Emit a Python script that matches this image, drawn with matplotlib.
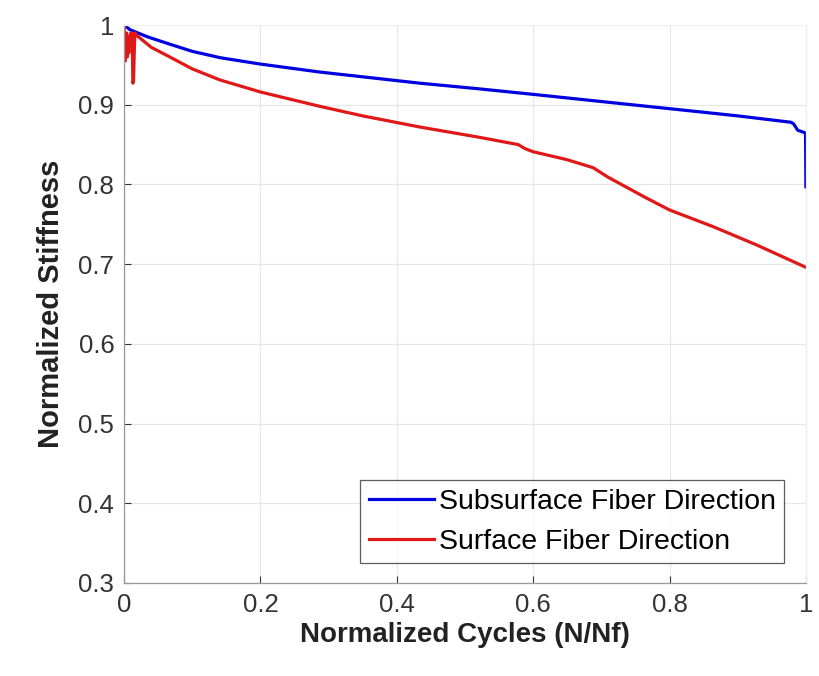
import matplotlib.pyplot as plt

plt.rcParams['font.family'] = ['Liberation Sans', 'DejaVu Sans']

# Subsurface fiber direction (blue)
sub_x = [0.0, 0.009, 0.035, 0.067, 0.1, 0.141, 0.2, 0.287, 0.35, 0.434, 0.52, 0.6, 0.7, 0.845, 0.9,
         0.978, 0.982, 0.988, 0.998, 0.9995, 1.0]
sub_y = [1.0, 0.994, 0.985, 0.976, 0.967, 0.959, 0.951, 0.941, 0.935, 0.927, 0.920, 0.913, 0.904, 0.891, 0.886,
         0.878, 0.876, 0.868, 0.865, 0.864, 0.797]

# Surface fiber direction (red)
surf_x = [0.0, 0.001, 0.002, 0.003, 0.004, 0.005, 0.006, 0.007, 0.008, 0.009, 0.010, 0.011,
          0.012, 0.013, 0.014, 0.015, 0.016, 0.02, 0.04, 0.067, 0.1, 0.141, 0.2, 0.287, 0.35, 0.434, 0.522,
          0.578, 0.588, 0.6, 0.65, 0.688, 0.71, 0.766, 0.8, 0.864, 0.928, 1.0]
surf_y = [1.0, 0.975, 0.955, 0.985, 0.99, 0.96, 0.985, 0.965, 0.985, 0.975, 0.99, 0.985,
          0.99, 0.927, 0.93, 0.965, 0.99, 0.986, 0.972, 0.960, 0.945, 0.931, 0.916, 0.898, 0.886, 0.872, 0.859,
          0.850, 0.845, 0.841, 0.831, 0.821, 0.809, 0.783, 0.768, 0.747, 0.724, 0.696]

fig = plt.figure(figsize=(8.19, 6.76), dpi=100)
ax = fig.add_axes([0.1514, 0.1376, 0.8326, 0.8254])

ax.plot(sub_x, sub_y, color='#0000e0', lw=2.3, label='Subsurface Fiber Direction')
ax.plot(surf_x, surf_y, color='#e01818', lw=2.3, label='Surface Fiber Direction')

ax.set_xlim(0, 1)
ax.set_ylim(0.3, 1.0)
ax.set_xticks([0, 0.2, 0.4, 0.6, 0.8, 1])
ax.set_xticklabels(['0', '0.2', '0.4', '0.6', '0.8', '1'])
ax.set_yticks([0.3, 0.4, 0.5, 0.6, 0.7, 0.8, 0.9, 1.0])
ax.set_yticklabels(['0.3', '0.4', '0.5', '0.6', '0.7', '0.8', '0.9', '1'])
ax.grid(True, color='#e6e6e6', lw=0.8)
ax.set_axisbelow(True)
ax.tick_params(direction='in', labelsize=18.5, colors='#333333', length=5, width=0.8, pad=7)
for s in ax.spines.values():
    s.set_color('#999999')
    s.set_linewidth(0.9)
ax.spines['top'].set_color('#f0f0f0')
ax.spines['right'].set_color('#eeeeee')

ax.set_xlabel('Normalized Cycles (N/Nf)', fontsize=20, fontweight='bold', color='#222222', labelpad=4)
ax.set_ylabel('Normalized Stiffness', fontsize=21, fontweight='bold', color='#222222', labelpad=10)

leg = ax.legend(loc='lower right', fontsize=20.5, frameon=True, fancybox=False,
                handlelength=2.3, handletextpad=0.15, borderpad=0.3, borderaxespad=0,
                labelspacing=0.5, bbox_to_anchor=(0.968, 0.035))
leg.get_frame().set_edgecolor('#333333')
leg.get_frame().set_linewidth(0.9)

fig.savefig('out.png', dpi=100)
